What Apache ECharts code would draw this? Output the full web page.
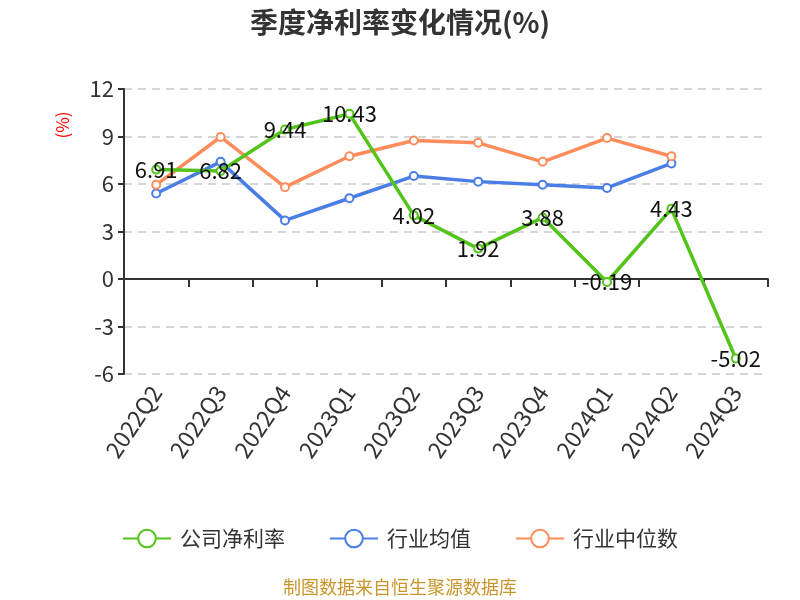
<!DOCTYPE html>
<html>
<head>
<meta charset="utf-8">
<script src="https://cdn.jsdelivr.net/npm/echarts@6/dist/echarts.min.js"></script>
<style>html,body{margin:0;padding:0;background:#fff;}#c{width:800px;height:600px;}</style>
</head>
<body>
<div id="c"></div>
<script>
var categories = ['2022Q2','2022Q3','2022Q4','2023Q1','2023Q2','2023Q3','2023Q4','2024Q1','2024Q2','2024Q3'];
var companyNetMargin = [6.91, 6.82, 9.44, 10.43, 4.02, 1.92, 3.88, -0.19, 4.43, -5.02];
var industryAverage = [5.4, 7.4, 3.7, 5.1, 6.5, 6.15, 5.95, 5.75, 7.3];
var industryMedian = [5.95, 8.97, 5.8, 7.75, 8.75, 8.6, 7.4, 8.9, 7.75];
var yTicks = { min: -6, max: 12, interval: 3 };

var chart = echarts.init(document.getElementById('c'));
var font = "'Noto Sans CJK SC', 'Noto Sans', sans-serif";
chart.setOption({
  animation: false,
  textStyle: { fontFamily: font },
  title: {
    text: '季度净利率变化情况(%)',
    left: 'center', top: 3,
    textStyle: { fontSize: 28, fontWeight: 'bold', color: '#333', fontFamily: font }
  },
  graphic: [{
    type: 'text', left: 'center', top: 578,
    style: { text: '制图数据来自恒生聚源数据库', fill: '#c8962a', fontSize: 18, fontFamily: font }
  }, {
    type: 'text', x: 63, y: 125, rotation: Math.PI / 2,
    style: { text: '(%)', fill: '#ff0000', fontSize: 17, fontFamily: font, align: 'center', verticalAlign: 'middle' }
  }],
  legend: {
    bottom: 46, left: 'center',
    itemWidth: 48, itemHeight: 22, itemGap: 44,
    textStyle: { fontSize: 21, color: '#333', fontFamily: font, padding: [0, 0, 0, 4] },
    data: ['公司净利率', '行业均值', '行业中位数']
  },
  grid: { left: 124, right: 32, top: 89, bottom: 226, containLabel: false },
  xAxis: [{
    type: 'category', data: categories, position: 'bottom',
    axisLine: { show: false, onZero: false },
    axisTick: { show: false },
    axisLabel: { rotate: 56, fontSize: 23, color: '#333', margin: 14, interval: 0 }
  }, {
    type: 'category', data: categories, position: 'top',
    axisLine: { show: true, onZero: true, lineStyle: { color: '#333', width: 2 } },
    axisTick: { show: true, inside: true, length: 8, lineStyle: { color: '#333', width: 2 } },
    axisLabel: { show: false }
  }],
  yAxis: {
    type: 'value', min: yTicks.min, max: yTicks.max, interval: yTicks.interval,
    axisLine: { show: true, lineStyle: { color: '#333', width: 2 } },
    axisTick: { show: true, length: 6, lineStyle: { color: '#333', width: 2 } },
    axisLabel: { fontSize: 22, color: '#333', margin: 10 },
    splitLine: { lineStyle: { type: [8, 6], color: '#c8c8c8', width: 1.5 } }
  },
  series: [{
    name: '公司净利率', type: 'line', data: companyNetMargin, xAxisIndex: 0,
    symbol: 'emptyCircle', symbolSize: 8,
    itemStyle: { color: '#52c41a' },
    lineStyle: { width: 3.5, color: '#52c41a' },
    label: { show: true, position: 'inside', fontSize: 22, color: '#111' },
    z: 3
  }, {
    name: '行业均值', type: 'line', data: industryAverage, xAxisIndex: 0,
    symbol: 'emptyCircle', symbolSize: 8,
    itemStyle: { color: '#4a7ee6' },
    lineStyle: { width: 3.5, color: '#4a7ee6' },
    z: 2
  }, {
    name: '行业中位数', type: 'line', data: industryMedian, xAxisIndex: 0,
    symbol: 'emptyCircle', symbolSize: 8,
    itemStyle: { color: '#ff8c5a' },
    lineStyle: { width: 3.5, color: '#ff8c5a' },
    z: 2
  }]
});
</script>
</body>
</html>
